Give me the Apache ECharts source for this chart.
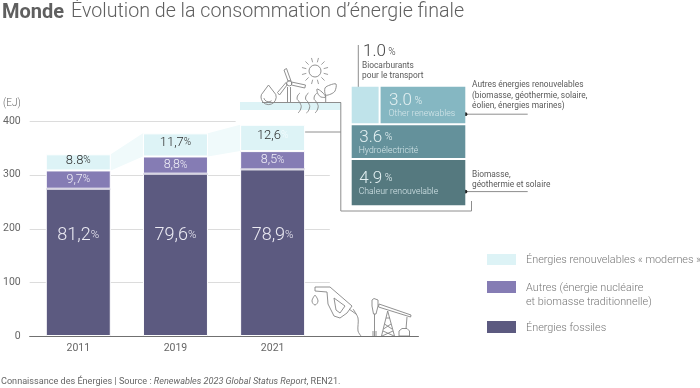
<!DOCTYPE html>
<html><head><meta charset="utf-8">
<style>html,body{margin:0;padding:0;background:#fff}#c{width:700px;height:388px}</style>
<script src="https://cdn.jsdelivr.net/npm/echarts@6/dist/echarts.min.js"></script>
</head><body><div id="c"></div>
<script>
const years = ['2011','2019','2021',''];
const fossil = [274,302,310];
const others = [34,32,34];
const renewables = [30,43,49];
const fossilShare = ['81,2','79,6','78,9'];
const othersShare = ['9,7','8,8','8,5'];
const renewShare = ['8.8','11,7','12,6'];
const yTicks = [0,100,200,300,400];
const panelNames = ['Chaleur renouvelable','Hydroélectricité','Biocarburants','Other renewables'];
const panelValues = [4.9,3.6,1.0,3.0];
const panelLabels = ['4.9','3.6','','3.0'];
const legendNames = ['Énergies renouvelables « modernes »','Autres (énergie nucléaire\net biomasse traditionnelle)','Énergies fossiles'];

const FONT='Roboto';
const C={fossil:'#5c5a80',others:'#857cb4',renew:'#ddf3f6',link:'#f0fafb',grid:'#dcdcdc',icon:'#858585',text:'#5a5a5a'};
const BAR=65;

function txt(x,y,text,size,fill,weight,extra){
  return Object.assign({type:'text',silent:true,style:{x,y,text,fill,font:(weight||300)+' '+size+'px '+FONT,verticalAlign:'middle'}},extra||{});
}
function rich(x,y,text,rs,extra){
  const styles={};Object.keys(rs).forEach(k=>styles[k]=Object.assign({fontFamily:FONT},rs[k]));
  return Object.assign({type:'text',silent:true,style:{x,y,text,rich:styles,verticalAlign:'middle',fontFamily:FONT}},extra||{});
}
const stroke={stroke:C.icon,fill:'none',lineWidth:0.9};
const pl=(pts,smooth)=>({type:'polyline',silent:true,shape:{points:pts,smooth:smooth||0},style:stroke});
const pg=(pts,smooth)=>({type:'polygon',silent:true,shape:{points:pts,smooth:smooth||0},style:stroke});
const ln=(x1,y1,x2,y2,col,w)=>({type:'line',silent:true,shape:{x1,y1,x2,y2},style:{stroke:col||'#8e8e8e',lineWidth:w||1}});
const dot=(cx,cy)=>({type:'circle',silent:true,shape:{cx,cy,r:1.9},style:{fill:'#222'}});
const rect=(x,y,w,h,f)=>({type:'rect',silent:true,shape:{x,y,width:w,height:h},style:{fill:f}});

const sunRays=[];
for(let i=0;i<12;i++){const a=i*Math.PI/6+0.26;
  sunRays.push(ln(315+Math.cos(a)*9,71+Math.sin(a)*9,315+Math.cos(a)*13.5,71+Math.sin(a)*13.5,C.icon,0.8));}
const wave=x=>pl([[x+2,93],[x-1,98],[x+2,103],[x+3,108],[x,113]],0.6);

const NOTE=8.35;
const decor=[
  // title
  txt(2,12.5,'Monde',20,'#5f5f5f',700),
  txt(71,12.5,'Évolution de la consommation d’énergie finale',19.65,'#5f5f5f',300),
  txt(3,103,'(EJ)',10,'#666',300),
  // pale strip and links to the panel
  rect(240,102,101,8,C.renew),
  ln(262,102.5,341,102.5),
  ln(340.8,102.5,340.8,211),
  ln(340.8,211,471.5,211),
  ln(471.5,211,471.5,201),
  ln(301.5,132,341,132),
  dot(301.5,132),
  ln(358.3,45,358.3,94.5),
  dot(358.5,94.5),
  ln(465.3,114.2,527.7,114.2),
  dot(465.5,114.2),
  ln(465.3,191.6,527.7,191.6),
  dot(465.5,191.6),
  // panel callouts
  rich(363,52,'{v|1.0}{p| %}',{v:{fontSize:17,fontWeight:300,fill:'#444',color:'#444'},p:{fontSize:10,fontWeight:300,fill:'#444',color:'#444'}}),
  txt(362,66,'Biocarburants',NOTE,C.text,400),
  txt(362,76,'pour le transport',NOTE,C.text,400),
  txt(472,85.3,'Autres énergies renouvelables',NOTE,C.text,400),
  txt(472,96,'(biomasse, géothermie, solaire,',NOTE,C.text,400),
  txt(472,106,'éolien, énergies marines)',NOTE,C.text,400),
  txt(472,175,'Biomasse,',NOTE,C.text,400),
  txt(472,185,'géothermie et solaire',NOTE,C.text,400),
  // legend
  rect(487,254,29,11,C.renew),
  rect(487,281,29,12,C.others),
  rect(487,321,29,12,C.fossil),
  txt(526,260.5,legendNames[0],10.85,'#777',300),
  txt(526,288,legendNames[1].split('\n')[0],10.85,'#777',300),
  txt(526,302,legendNames[1].split('\n')[1],10.85,'#777',300),
  txt(526,328.5,legendNames[2],10.85,'#777',300),
  // source
  rich(1,382,'{n|Connaissance des Énergies | Source : }{i|Renewables 2023 Global Status Report}{n|, REN21.}',{
    n:{fontSize:9.1,fontWeight:400,fill:'#666',color:'#666'},
    i:{fontSize:9.1,fontWeight:400,fontStyle:'italic',fill:'#666',color:'#666'}}),
  // drop
  {type:'arc',silent:true,shape:{cx:268.6,cy:97,r:7.6,startAngle:-0.35,endAngle:Math.PI+0.35},style:stroke},
  pl([[261.5,94.5],[268.5,85],[275.8,94.5]]),
  {type:'arc',silent:true,shape:{cx:268.6,cy:97,r:4.8,startAngle:0.9,endAngle:2.9},style:stroke},
  // windmill
  ln(287.5,87,287.5,102,C.icon,0.9),
  ln(290.5,87,290.5,102,C.icon,0.9),
  {type:'circle',silent:true,shape:{cx:289.3,cy:83.3,r:2.6},style:stroke},
  pg([[288,81],[284,70],[286.5,68.5],[291,81]]),
  pg([[291.5,82],[305.5,85],[304.8,88],[291.5,85]]),
  pg([[287,85],[279.5,95],[277.5,92.5],[286,82.5]]),
  // sun
  {type:'circle',silent:true,shape:{cx:315,cy:71,r:6},style:stroke},
  ...sunRays,
  // heat
  wave(298), wave(306.5), wave(315),
  // plant
  ln(325.7,95,325.7,102,C.icon,0.9),
  pg([[325.7,95],[325,88],[330,85],[336,84],[335,91],[331,94]],0.3),
  pg([[325.7,97],[322,92],[317,89],[318,94],[321,97]],0.3),
  // fuel pump
  pg([[315,287],[330,287],[352,306],[347,313],[340,318],[334,316],[328,304],[327,292],[315,291]]),
  pg([[334,298],[345,306],[340,313],[336,310]]),
  ln(349,309,356,314,C.icon,0.9),
  pl([[353,309],[358,318],[358,331],[361,336]],0.3),
  pl([[315,295],[312,301],[315,305],[318,301],[315,295]],0.4),
  // oil derrick
  pg([[372,300],[374,298.5],[378,300],[378,306],[376,314],[373.5,314],[372,306]]),
  ln(374.5,314,374.5,336,C.icon,0.9),
  ln(373,336,373,331,C.icon,0.9),
  ln(376,336,376,331,C.icon,0.9),
  pg([[379,304],[411,315],[410.6,317],[378.5,307]]),
  ln(387.7,311,381.5,336,C.icon,0.9),
  ln(387.7,311,394.5,336,C.icon,0.9),
  ln(386,318,390,318,C.icon,0.9),
  ln(384.5,324,392,329,C.icon,0.9),
  ln(391,324,383.5,329,C.icon,0.9),
  ln(383,331,394,336,C.icon,0.9),
  ln(393,331,382,336,C.icon,0.9),
  ln(407,317,406,329,C.icon,0.9),
  pg([[399,336],[399,331],[402,328.5],[407,328.5],[409.5,331],[409.5,336]])
];

const labelOf=(arr,cls)=>p=>{const i=p.dataIndex;return '{'+cls+'|'+arr[i]+'}{'+cls+'p|%}';};

const cum=(arrs,i)=>arrs.reduce((s,a)=>s+a[i],0);

const option={
  animation:false,
  textStyle:{fontFamily:FONT},
  grid:[
    {left:29.4,top:121,width:389,height:215,containLabel:false},
    {left:350.7,top:85.7,width:115.6,height:120.6}
  ],
  xAxis:[
    {type:'category',data:years,gridIndex:0,axisTick:{show:false},
     axisLine:{lineStyle:{color:'#707070',width:1.2}},
     axisLabel:{color:'#666',fontSize:10.5,fontWeight:400,margin:7,fontFamily:FONT}},
    {type:'value',gridIndex:1,min:0,max:4,show:false}
  ],
  yAxis:[
    {type:'value',gridIndex:0,min:0,max:400,interval:100,
     axisLine:{show:false},axisTick:{show:false},splitLine:{show:false},
     axisLabel:{color:'#666',fontSize:10.5,fontWeight:400,margin:9,fontFamily:FONT}},
    {type:'value',gridIndex:1,min:0,max:12.5,show:false}
  ],
  graphic:{elements:decor},
  series:[
    {type:'custom',name:'grid',z:1,silent:true,clip:false,xAxisIndex:0,yAxisIndex:0,
     data:yTicks.slice(1).map(v=>[0,v]),
     renderItem(p,api){
       const v=api.value(1),y=Math.round(api.coord([0,v])[1])+0.5;
       const x0=api.coord([0,v])[0]-48.6;
       const x1=api.coord([v===400?2:3,v])[0]+(v===400?-37:-40);
       return {type:'line',shape:{x1:x0,y1:y,x2:x1,y2:y},style:{stroke:C.grid,lineWidth:1}};
     }},
    {type:'custom',name:'liens',z:1,silent:true,clip:false,xAxisIndex:0,yAxisIndex:0,
     data:[[0,1],[1,2]],
     renderItem(p,api){
       const a=api.value(0),b=api.value(1);
       const xa=api.coord([a,0])[0]+BAR/2, xb=api.coord([b,0])[0]-BAR/2;
       const ya0=api.coord([a,cum([fossil,others,renewables],a)])[1], ya1=api.coord([a,cum([fossil,others],a)])[1];
       const yb0=api.coord([b,cum([fossil,others,renewables],b)])[1], yb1=api.coord([b,cum([fossil,others],b)])[1];
       return {type:'polygon',shape:{points:[[xa,ya0],[xb,yb0],[xb,yb1],[xa,ya1]]},style:{fill:C.link}};
     }},
    {type:'bar',name:'Énergies fossiles',stack:'t',data:fossil,barWidth:BAR,z:2,
     itemStyle:{color:C.fossil,borderColor:'#fff',borderWidth:1},
     label:{show:true,position:'insideBottom',distance:92,formatter:labelOf(fossilShare,'a'),
       rich:{a:{fontSize:18,fontWeight:300,color:'#ecebf3',fontFamily:FONT},ap:{fontSize:11.5,fontWeight:300,color:'#ecebf3',fontFamily:FONT}}}},
    {type:'bar',name:'Autres',stack:'t',data:others,barWidth:BAR,z:2,
     itemStyle:{color:C.others,borderColor:'#fff',borderWidth:1},
     label:{show:true,position:'inside',formatter:labelOf(othersShare,'a'),
       rich:{a:{fontSize:12.5,fontWeight:300,color:'#f0eff7',fontFamily:FONT},ap:{fontSize:10,fontWeight:300,color:'#f0eff7',fontFamily:FONT}}}},
    {type:'bar',name:'Énergies renouvelables',stack:'t',data:renewables,barWidth:BAR,z:2,
     itemStyle:{color:C.renew,borderColor:'#fff',borderWidth:1},
     label:{show:true,position:'inside',offset:[0,-2],
       formatter:p=>'{a|'+renewShare[p.dataIndex]+'}{'+(p.dataIndex===2?'w':'ap')+'|%}',
       rich:{a:{fontSize:13,fontWeight:300,color:'#2f2f2f',fontFamily:FONT},ap:{fontSize:10,fontWeight:300,color:'#2f2f2f',fontFamily:FONT},w:{fontSize:10,fontWeight:300,color:'#f5fcfd',fontFamily:FONT}}}},
    {type:'custom',name:'lisere',z:3,silent:true,clip:false,xAxisIndex:0,yAxisIndex:0,
     data:fossil.map((v,i)=>[i,v]),
     renderItem(p,api){
       const c=api.coord([api.value(0),api.value(1)]);
       return {type:'rect',shape:{x:c[0]-BAR/2+0.5,y:Math.round(c[1])-0.5,width:BAR-1,height:1},style:{fill:'#b9b5cd'}};
     }},
    {type:'custom',name:'panneau',z:2,silent:true,clip:false,xAxisIndex:1,yAxisIndex:1,
     data:panelValues.map((v,i)=>[i,v]),
     renderItem(p,api){
       const i=p.dataIndex;
       const row3=panelValues[2]+panelValues[3];
       const spans=[
         [0,row3,0,panelValues[0]],
         [0,row3,panelValues[0],panelValues[0]+panelValues[1]],
         [0,panelValues[2],panelValues[0]+panelValues[1],panelValues[0]+panelValues[1]+row3],
         [panelValues[2],row3,panelValues[0]+panelValues[1],panelValues[0]+panelValues[1]+row3]
       ][i];
       const a=api.coord([spans[0],spans[3]]), b=api.coord([spans[1],spans[2]]);
       const fills=['#55797f','#64919b','#bfe3ea','#85b7c2'];
       const children=[{type:'rect',shape:{x:a[0]+1,y:a[1]+1,width:b[0]-a[0]-2,height:b[1]-a[1]-2},style:{fill:fills[i]}}];
       if(panelLabels[i]){
         const tx=i===3?a[0]+9.5:a[0]+8.5, cy=(a[1]+b[1])/2;
         children.push({type:'text',style:{x:tx,y:cy-4,verticalAlign:'middle',text:'{v|'+panelLabels[i]+'}{p| %}',
           fontFamily:FONT,rich:{v:{fontSize:17,fontWeight:300,fill:'#e3f0f2',color:'#e3f0f2',fontFamily:FONT},p:{fontSize:10.5,fontWeight:300,fill:'#e3f0f2',color:'#e3f0f2',fontFamily:FONT}}}});
         children.push({type:'text',style:{x:i===3?a[0]+9:a[0]+8,y:cy+9,verticalAlign:'middle',text:panelNames[i],fill:'#d6e7ea',font:'300 8.7px '+FONT}});
       }
       return {type:'group',children};
     }}
  ]
};
const chart=echarts.init(document.getElementById('c'),null,{renderer:'canvas'});
chart.setOption(option);
</script></body></html>
